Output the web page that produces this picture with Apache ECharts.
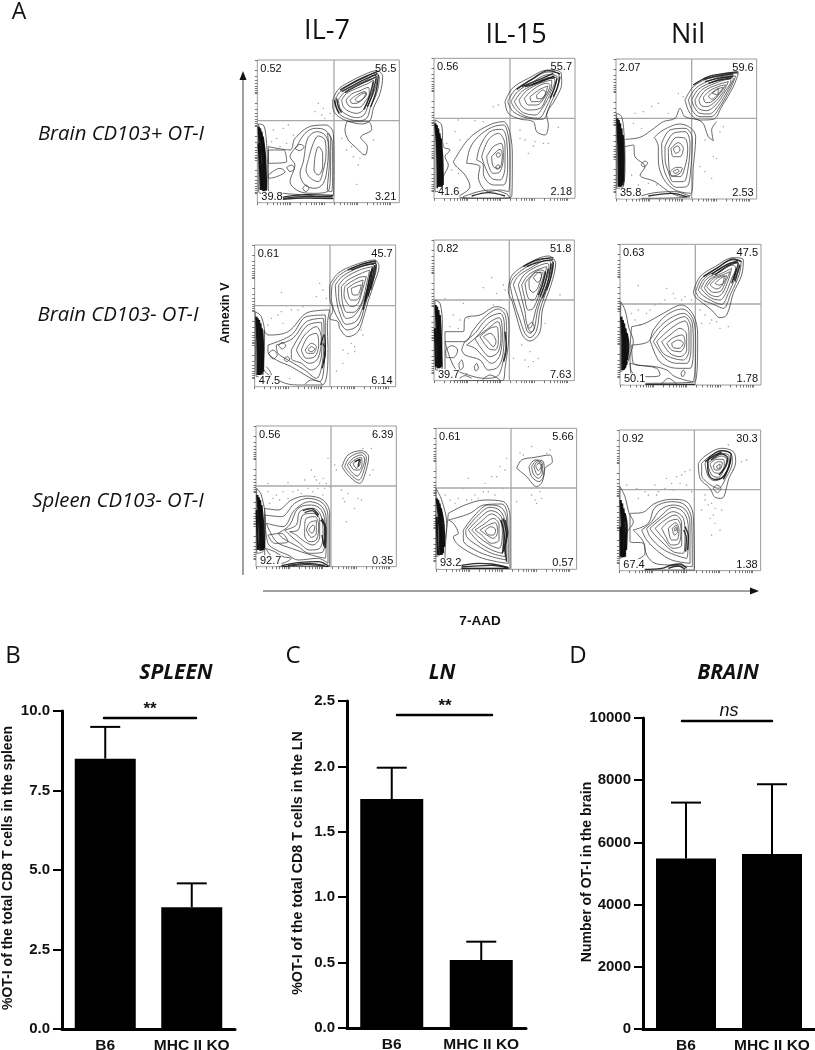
<!DOCTYPE html>
<html>
<head>
<meta charset="utf-8">
<style>html,body{margin:0;background:#fff}#chart{width:815px;height:1050px}</style>
<script src="https://cdn.jsdelivr.net/npm/echarts@6/dist/echarts.min.js"></script>
</head>
<body>
<div id="chart"></div>
<script>
// bar panels
const groups = ["B6", "MHC II KO"];
const spleenMean = [8.5, 3.83];
const spleenUpper = [9.5, 4.58];
const lnMean = [1.75, 0.52];
const lnUpper = [1.99, 0.66];
const brainMean = [5480, 5630];
const brainUpper = [7280, 7870];

// flow plots. units are the plot's own channel scale
const columnNames = ["IL-7", "IL-15", "Nil"];
const rowNames = ["Brain CD103+ OT-I", "Brain CD103- OT-I", "Spleen CD103- OT-I"];
const gatePercents = [
  ["0.52", "56.5", "39.8", "3.21"], ["0.56", "55.7", "41.6", "2.18"], ["2.07", "59.6", "35.8", "2.53"],
  ["0.61", "45.7", "47.5", "6.14"], ["0.82", "51.8", "39.7", "7.63"], ["0.63", "47.5", "50.1", "1.78"],
  ["0.56", "6.39", "92.7", "0.35"], ["0.61", "5.66", "93.2", "0.57"], ["0.92", "30.3", "67.4", "1.38"]
];
const flowTicks = [0, 30, 48, 61, 70, 78, 85, 91, 96, 100, 130, 148, 161, 170, 178, 185, 191, 196, 200, 230, 248, 261, 270, 278, 285, 291, 296, 300, 330, 348, 361, 370, 378, 385, 391, 396, 400];

const a1Rings = [
  [[278,150],[295,118],[330,95],[370,75],[410,62],[428,80],[420,130],[400,175],[390,212],[365,222],[320,212],[290,195],[278,170]],
  [[285,150],[300,125],[335,102],[375,82],[408,68],[418,85],[410,130],[392,170],[380,205],[355,212],[320,205],[295,188]],
  [[295,150],[310,130],[340,110],[380,90],[405,75],[410,95],[400,130],[385,165],[372,195],[350,203],[322,195],[302,178]],
  [[305,150],[320,130],[350,115],[385,100],[400,90],[398,120],[385,150],[370,180],[350,190],[325,183],[310,170]],
  [[318,150],[335,132],[360,122],[385,112],[388,130],[375,155],[358,172],[338,172],[324,165]],
  [[330,150],[350,135],[375,125],[380,132],[365,150],[348,160],[336,160]],
  [[345,148],[365,132],[378,128],[370,145],[352,155]],
  [[320,215],[315,240],[325,270],[345,290],[375,315],[382,290],[362,262],[395,238],[385,215]],
  [[85,290],[150,300],[165,265],[215,228],[258,225],[280,250],[282,330],[280,435],[240,440],[200,435],[130,430],[85,420]],
  [[170,290],[195,250],[225,235],[255,240],[272,265],[272,330],[270,400],[262,425],[220,430],[180,425],[150,395],[165,345],[150,320]],
  [[195,300],[205,262],[230,245],[255,255],[265,285],[262,350],[250,400],[225,415],[195,405],[180,370],[190,335]],
  [[205,330],[218,285],[235,258],[255,270],[258,310],[250,360],[235,395],[212,385],[198,360]],
  [[225,320],[235,290],[248,310],[248,350],[235,375],[222,360]],
  [[262,250],[276,270],[278,340],[275,425],[262,420],[268,340],[266,280]],
  [[165,295],[180,283],[192,290],[178,302]],
  [[140,352],[155,345],[163,355],[150,365]],
  [[85,375],[120,355],[135,365],[110,380],[85,385]],
  [[188,415],[198,405],[207,415],[197,425]],
  [[85,340],[140,335],[130,300],[85,300]],
  [[55,222],[70,225],[78,260],[82,340],[80,420],[60,430],[55,400]]
];
const a1Dark = [
  [[300,120],[340,97],[380,78],[412,65]], [[305,125],[345,103],[385,83],[412,72]], [[315,128],[350,108],[388,90],[410,80]],
  [[415,75],[408,125],[392,170]], [[408,85],[398,130],[382,170]], [[400,95],[388,140],[372,178]],
  [[283,150],[288,170],[298,190]], [[290,145],[295,170],[305,188]],
  [[125,442],[200,434],[280,436]], [[125,448],[200,444],[280,446]], [[130,445],[200,439],[278,441]]
];
const a1Band = [[[56,230],[60,300],[66,420]], [[60,235],[66,300],[70,425]], [[64,245],[71,310],[74,425]], [[68,260],[75,320],[78,420]], [[56,280],[60,350],[62,420]]];
const a1Dots = [[100,240],[130,235],[145,225],[160,255],[110,265],[235,160],[250,175],[225,185],[245,195],[270,190],[255,205],[340,320],[360,325],[355,345],[320,300],[350,403],[400,270],[95,275],[120,290],[140,280],[335,290],[305,265]];

const a2Rings = [
  [[240,155],[262,115],[310,85],[370,60],[408,68],[410,100],[390,150],[365,195],[370,225],[360,255],[335,245],[325,215],[285,207],[250,190]],
  [[248,155],[270,120],[315,92],[370,66],[402,72],[398,110],[375,165],[352,208],[310,205],[265,185]],
  [[258,155],[278,125],[320,98],[370,74],[396,80],[388,115],[365,170],[340,205],[300,198],[272,178]],
  [[268,155],[290,125],[330,102],[375,82],[390,90],[378,125],[355,170],[330,195],[295,188],[278,172]],
  [[282,150],[305,122],[345,100],[380,90],[380,105],[365,140],[345,175],[310,180],[290,168]],
  [[298,145],[325,118],[365,100],[375,105],[360,140],[335,165],[310,165]],
  [[315,140],[345,118],[368,108],[360,135],[340,155],[320,155]],
  [[335,135],[355,120],[362,128],[348,146],[336,146]],
  [[85,335],[120,280],[150,250],[200,222],[235,215],[255,250],[262,320],[260,440],[200,445],[100,440],[135,410],[120,375],[90,345]],
  [[125,340],[135,295],[160,260],[200,232],[235,225],[250,260],[255,330],[250,425],[225,420],[190,425],[160,380],[165,350]],
  [[155,330],[165,290],[195,245],[230,238],[245,270],[248,350],[235,405],[205,405],[175,370],[175,345]],
  [[170,320],[190,270],[220,250],[240,285],[240,350],[225,390],[200,385],[180,350]],
  [[185,320],[205,290],[228,280],[235,320],[225,365],[205,370],[190,345]],
  [[200,320],[225,298],[232,315],[222,355],[205,350]],
  [[213,312],[222,308],[226,316],[218,322]],
  [[212,350],[220,344],[224,352],[216,358]],
  [[115,440],[160,425],[200,420],[245,432],[255,445],[115,445]],
  [[30,210],[50,225],[55,290],[75,300],[60,320],[70,345],[55,380],[50,420],[30,425]]
];
const a2Dark = [
  [[275,118],[320,88],[370,62],[405,72]], [[290,110],[335,92],[385,70]], [[300,110],[340,98],[388,78]], [[320,105],[355,90],[392,82]],
  [[405,80],[398,110],[385,140]], [[396,85],[388,115],[375,145]], [[140,438],[190,428],[240,438]]
];
const a2Band = [[[31,220],[36,290],[38,415]], [[35,225],[40,290],[42,415]], [[39,235],[44,300],[46,415]], [[43,250],[48,310],[50,412]], [[47,265],[52,330],[53,405]]];
const a2Dots = [[100,210],[150,212],[175,215],[205,170],[220,165],[240,205],[285,265],[300,270],[325,288],[330,275],[355,280],[400,232],[90,245],[105,270],[80,360],[100,370],[310,310],[285,240],[370,280],[65,280]];

const a3Rings = [
  [[240,150],[265,110],[310,85],[360,72],[400,70],[385,110],[350,170],[325,208],[285,210],[255,190]],
  [[250,150],[272,115],[318,90],[365,78],[392,78],[378,112],[345,170],[318,200],[285,200],[262,182]],
  [[260,150],[280,118],[325,95],[370,82],[385,85],[370,118],[338,170],[312,192],[285,190],[268,172]],
  [[270,150],[290,120],[330,100],[372,88],[378,92],[362,122],[332,165],[305,182],[285,178],[273,165]],
  [[282,148],[300,122],[335,105],[370,95],[355,125],[325,160],[302,170],[287,165]],
  [[295,142],[315,122],[345,108],[362,105],[345,130],[320,155],[302,158]],
  [[310,138],[335,118],[355,112],[340,132],[320,148]],
  [[322,130],[340,115],[338,135]],
  [[148,262],[175,240],[225,222],[258,235],[272,260],[265,350],[258,430],[210,420],[175,385],[160,330],[160,290]],
  [[170,280],[195,240],[240,235],[262,265],[258,350],[245,410],[215,412],[185,380],[172,330]],
  [[180,290],[205,250],[240,245],[255,280],[250,350],[235,395],[205,395],[190,365],[180,325]],
  [[190,295],[215,262],[240,265],[248,300],[240,350],[225,380],[200,378],[192,350]],
  [[198,295],[220,278],[235,295],[225,320],[205,320]],
  [[205,295],[218,288],[225,300],[212,310]],
  [[195,365],[215,352],[232,355],[222,372],[200,378]],
  [[204,365],[218,358],[222,364],[210,370]],
  [[108,345],[120,333],[128,340],[115,350]],
  [[100,440],[150,428],[210,425],[255,440],[100,445]],
  [[35,190],[50,200],[58,265],[60,330],[55,410],[35,415]]
];
const a3Open = [
  [[60,268],[105,262],[140,240],[175,215],[210,205],[225,175],[240,200],[290,215],[310,260],[325,272],[320,240],[335,215]],
  [[60,290],[85,285],[90,320],[120,350],[105,375],[150,395],[200,430],[240,440],[258,435]]
];
const a3Dark = [
  [[265,105],[310,80],[360,70],[400,66]], [[295,88],[340,78],[385,72]], [[300,95],[340,85],[385,78]], [[310,100],[345,90],[380,84]],
  [[130,438],[200,430],[245,440]]
];
const a3Band = [[[37,205],[40,290],[41,410]], [[41,210],[44,290],[45,410]], [[45,220],[48,300],[49,410]], [[49,235],[52,310],[53,405]], [[53,255],[56,320],[55,395]]];
const a3Dots = [[90,190],[115,185],[140,170],[160,160],[220,130],[235,140],[190,190],[85,220],[110,235],[300,270],[325,320],[335,325],[285,350],[300,365],[320,385],[345,245],[355,230],[100,405],[130,400],[155,405],[80,375]];

const b1Rings = [
  [[245,150],[270,115],[320,90],[380,75],[393,95],[380,140],[360,200],[350,235],[330,290],[300,305],[275,280],[270,260],[245,250],[255,225],[245,190]],
  [[252,150],[275,120],[322,95],[378,80],[385,100],[370,150],[350,215],[330,270],[298,285],[270,250],[258,225],[250,190]],
  [[262,150],[282,125],[328,100],[375,88],[380,105],[362,160],[345,215],[325,258],[295,268],[275,235],[265,190]],
  [[272,150],[292,128],[335,105],[372,95],[372,115],[355,170],[338,215],[315,245],[295,250],[280,220],[272,185]],
  [[280,155],[300,135],[340,115],[365,105],[355,150],[340,205],[315,232],[297,232],[283,200]],
  [[290,155],[310,140],[345,125],[355,125],[342,170],[330,205],[312,215],[298,205],[288,180]],
  [[298,160],[320,145],[345,135],[338,175],[325,195],[308,195]],
  [[310,160],[330,152],[340,150],[328,180],[315,180]],
  [[48,285],[60,300],[120,290],[180,232],[245,225],[238,270],[240,340],[222,450],[150,450],[100,440],[45,395]],
  [[60,330],[130,300],[175,245],[232,240],[232,300],[230,370],[215,440],[180,425],[130,395],[85,375],[60,350]],
  [[85,330],[135,310],[175,260],[225,250],[228,300],[222,390],[205,430],[170,405],[120,375],[90,355]],
  [[130,345],[150,310],[180,270],[220,262],[222,320],[215,385],[190,405],[160,385],[130,370]],
  [[145,345],[170,300],[205,275],[220,310],[210,370],[185,385],[160,370]],
  [[160,345],[180,305],[205,295],[212,330],[200,365],[175,370]],
  [[172,345],[190,325],[205,335],[195,355],[178,355]],
  [[180,345],[190,335],[200,342],[190,350]],
  [[92,332],[102,322],[113,332],[103,342]],
  [[62,355],[75,345],[88,360],[75,372]],
  [[108,372],[118,365],[125,372],[115,380]],
  [[22,230],[40,245],[50,300],[48,370],[45,420],[25,425]]
];
const b1Open = [[[55,395],[70,420],[65,440],[90,440]], [[170,448],[190,435],[215,440],[222,450]]];
const b1Dark = [
  [[300,105],[340,88],[385,78]], [[310,105],[345,92],[385,84]], [[375,95],[365,150],[352,200]], [[368,110],[355,175],[345,225]], [[380,90],[372,135],[360,185]], [[385,88],[378,125],[368,165]], [[372,100],[360,155],[350,205]],
  [[218,330],[228,300],[232,350],[222,400]], [[224,325],[232,340],[226,385]]
];
const b1Band = [[[25,245],[28,320],[29,420]], [[29,250],[32,320],[33,420]], [[33,255],[37,330],[37,420]], [[37,265],[41,340],[41,418]], [[41,280],[45,345],[44,410]]];
const b1Dots = [[100,172],[215,145],[225,165],[205,185],[235,190],[115,212],[150,225],[90,240],[70,250],[105,265],[60,270],[285,345],[310,325],[320,335],[345,300],[330,270],[285,385],[265,408],[125,430],[300,355],[130,225],[165,215],[100,230],[340,285],[320,350]];

const b2Rings = [
  [[250,160],[262,120],[310,85],[370,63],[392,85],[378,150],[352,225],[345,290],[315,318],[295,305],[280,265],[262,200],[250,170]],
  [[255,150],[268,125],[312,92],[370,70],[385,90],[370,150],[345,225],[335,285],[315,308],[300,295],[285,255],[265,195]],
  [[265,150],[278,125],[318,98],[368,75],[380,95],[362,155],[338,225],[328,280],[315,295],[305,285],[295,245],[280,195]],
  [[280,150],[295,122],[325,100],[368,85],[372,100],[355,160],[332,225],[322,268],[315,280],[305,265],[300,230],[290,190]],
  [[290,150],[308,122],[335,105],[365,95],[350,155],[325,220],[310,225],[298,185]],
  [[300,145],[320,120],[345,105],[358,110],[345,155],[325,195],[310,190]],
  [[312,135],[335,112],[352,112],[340,155],[325,172],[313,160]],
  [[325,128],[342,112],[350,122],[338,142]],
  [[307,275],[320,262],[328,278],[318,292]],
  [[60,290],[115,290],[120,250],[165,240],[215,215],[245,230],[252,290],[240,400],[232,437],[100,437],[60,420]],
  [[60,320],[120,320],[145,285],[180,245],[220,222],[242,245],[245,300],[232,390],[215,425],[180,430],[130,420],[90,400]],
  [[110,345],[120,320],[150,295],[185,252],[225,235],[238,270],[235,350],[220,395],[190,405],[165,375],[120,360]],
  [[125,330],[155,305],[190,265],[222,248],[232,290],[225,360],[200,385],[175,365],[150,340]],
  [[150,310],[190,280],[218,260],[228,300],[220,350],[195,365],[165,335]],
  [[165,305],[195,280],[215,275],[220,320],[210,345],[190,340]],
  [[175,305],[195,295],[213,320],[205,335],[190,320]],
  [[62,345],[80,332],[98,345],[85,368],[65,368]],
  [[102,385],[110,375],[115,395],[105,405]],
  [[148,395],[155,385],[160,400],[152,408]],
  [[30,195],[45,205],[52,270],[50,340],[52,400],[32,405]]
];
const b2Open = [[[95,437],[120,422],[140,430]], [[170,437],[195,420],[225,435]]];
const b2Dark = [
  [[295,95],[335,75],[385,68]], [[305,95],[340,82],[385,74]], [[378,85],[368,145],[352,190]], [[370,100],[358,150],[345,185]], [[385,80],[378,125],[365,165]], [[362,110],[352,150],[340,180]],
  [[240,290],[244,340],[236,380]]
];
const b2Band = [[[32,210],[36,300],[38,400]], [[36,215],[40,300],[42,400]], [[40,225],[44,310],[46,398]], [[44,240],[48,320],[49,395]], [[30,280],[33,395]]];
const b2Dots = [[60,190],[200,128],[175,158],[215,175],[225,195],[235,150],[240,165],[115,205],[85,240],[105,255],[75,275],[290,330],[315,350],[325,380],[300,375],[265,370],[405,180],[360,265],[125,415],[205,210],[130,250],[100,280],[340,370],[310,395]];

const b3Rings = [
  [[265,170],[285,125],[330,95],[385,68],[415,75],[410,120],[385,175],[365,240],[345,248],[320,225],[270,185]],
  [[272,170],[290,130],[335,100],[385,75],[408,82],[402,120],[378,175],[355,220],[330,210],[285,190]],
  [[280,165],[298,130],[340,105],[385,82],[402,88],[392,125],[370,175],[350,208],[325,200],[292,180]],
  [[288,160],[305,132],[345,110],[385,90],[392,100],[380,130],[362,175],[345,195],[320,190],[298,172]],
  [[298,158],[315,132],[350,115],[380,100],[372,130],[352,175],[335,185],[310,175]],
  [[305,155],[325,130],[352,120],[375,110],[362,140],[345,170],[325,172]],
  [[315,150],[335,130],[358,122],[352,150],[335,162]],
  [[330,145],[350,128],[365,122],[355,145],[340,150]],
  [[80,275],[120,265],[175,235],[230,210],[265,240],[278,300],[270,440],[90,445],[75,350]],
  [[80,330],[130,320],[145,285],[185,240],[232,222],[265,255],[272,320],[262,440],[210,425],[185,405],[150,395],[85,385]],
  [[135,315],[160,280],[195,250],[235,235],[262,265],[265,330],[255,400],[225,400],[190,395],[160,375]],
  [[145,320],[170,285],[205,258],[238,245],[258,280],[258,340],[245,385],[215,385],[180,370]],
  [[155,320],[180,295],[215,268],[240,258],[252,295],[252,345],[235,375],[205,370],[175,355]],
  [[170,320],[195,300],[225,280],[245,300],[245,345],[225,365],[195,355]],
  [[185,325],[205,308],[232,300],[240,325],[225,350],[200,345]],
  [[200,325],[220,315],[235,325],[222,340],[205,338]],
  [[75,385],[100,390],[155,400],[165,420],[135,425],[100,425],[80,410]],
  [[228,415],[235,405],[240,415],[232,425]],
  [[47,200],[60,225],[72,280],[85,320],[75,360],[60,400],[47,410]]
];
const b3Open = [[[170,447],[190,430],[215,447]]];
const b3Dark = [
  [[295,125],[335,100],[385,72],[410,80]], [[330,120],[370,92],[400,82]], [[320,118],[360,92],[398,78]],
  [[405,90],[390,140]], [[395,100],[380,145]], [[400,85],[386,135]], [[120,448],[270,448]]
];
const b3Band = [[[49,245],[52,320],[52,405]], [[53,255],[56,320],[56,405]], [[57,265],[60,330],[60,400]], [[61,280],[65,335],[63,390]], [[65,295],[70,330],[66,375]]];
const b3Dots = [[100,152],[185,160],[205,175],[240,185],[150,210],[180,195],[100,225],[125,235],[90,255],[105,270],[285,225],[300,240],[290,265],[315,265],[345,280],[370,275],[300,200],[230,195],[260,195],[320,255],[135,225],[165,205],[80,235],[210,190],[335,260]];

const c1Rings = [
  [[282,140],[300,105],[340,92],[362,110],[350,165],[335,190],[300,165]],
  [[290,140],[305,112],[340,98],[355,112],[345,160],[332,180],[305,160]],
  [[298,135],[315,115],[340,105],[350,118],[340,152],[328,168],[310,155]],
  [[305,132],[322,118],[340,112],[342,130],[333,150],[320,150]],
  [[315,130],[328,122],[338,118],[335,135],[325,145]],
  [[50,265],[90,270],[130,240],[175,228],[225,240],[245,280],[245,440],[100,440],[50,405]],
  [[50,285],[100,290],[140,250],[180,235],[225,250],[240,290],[240,430],[210,415],[150,420],[120,405],[85,390],[60,370]],
  [[55,310],[105,320],[140,270],[185,245],[222,260],[235,300],[232,415],[190,405],[130,385],[85,365]],
  [[90,340],[125,315],[150,265],[190,255],[220,270],[232,320],[225,395],[185,400],[150,380],[105,355]],
  [[110,330],[145,315],[155,275],[195,265],[218,285],[225,340],[215,385],[185,390],[155,370],[125,345]],
  [[125,335],[150,330],[165,285],[195,280],[215,300],[215,350],[195,375],[170,365],[145,345]],
  [[170,320],[175,295],[200,290],[212,315],[205,360],[185,365],[170,345]],
  [[175,330],[185,308],[205,302],[205,340],[190,352]],
  [[182,330],[195,315],[200,322],[192,340]],
  [[52,385],[80,395],[105,410],[130,415],[100,430]],
  [[60,345],[100,340],[120,365],[80,370]],
  [[26,205],[40,225],[52,300],[50,380],[45,395],[26,400]]
];
const c1Dark = [
  [[320,125],[335,118],[330,140]],
  [[95,438],[150,428],[210,425],[242,438]], [[120,436],[180,430],[230,436]], [[105,440],[180,434],[240,440]],
  [[218,300],[230,320],[228,380],[222,345]], [[222,295],[234,330],[232,385]], [[165,272],[190,266],[212,285]], [[170,278],[192,272],[210,290]]
];
const c1Band = [[[28,225],[33,300],[37,392]], [[32,232],[37,300],[41,392]], [[36,240],[41,310],[45,390]], [[40,255],[46,320],[48,385]], [[26,270],[30,390]]];
const c1Dots = [[60,190],[120,188],[170,180],[190,150],[205,180],[225,175],[240,115],[235,190],[60,215],[85,225],[105,215],[150,210],[180,205],[225,225],[265,150],[280,210],[295,305],[320,265],[285,235],[340,240],[370,85],[375,150],[245,200],[65,250],[120,235],[135,215],[160,220],[195,215],[210,205],[215,190],[200,170],[230,205],[95,240],[75,235],[300,220],[345,85],[365,165],[260,135],[290,245],[330,235]];

const c2Rings = [
  [[275,145],[290,120],[330,112],[375,105],[382,125],[360,145],[352,185],[335,200],[305,170]],
  [[312,140],[330,120],[355,125],[358,160],[342,185],[320,170]],
  [[320,140],[335,122],[352,130],[352,160],[340,175],[325,162]],
  [[327,140],[338,125],[350,135],[347,158],[338,165]],
  [[332,138],[342,130],[348,140],[340,152]],
  [[70,280],[120,255],[180,240],[235,245],[255,290],[255,445],[105,445],[60,410]],
  [[70,300],[135,280],[175,255],[230,252],[248,290],[250,430],[215,425],[160,410],[100,375],[85,350],[100,340],[85,310]],
  [[115,330],[150,285],[190,255],[228,262],[245,300],[245,420],[200,410],[150,390],[115,360]],
  [[122,330],[155,290],[195,262],[225,272],[240,310],[240,410],[200,400],[155,375],[125,350]],
  [[130,330],[160,298],[198,272],[225,285],[235,320],[232,400],[200,390],[160,365]],
  [[140,330],[168,305],[200,282],[225,300],[232,340],[222,385],[195,375],[160,350]],
  [[150,330],[178,312],[205,295],[222,315],[222,360],[200,370],[170,345]],
  [[165,330],[190,315],[210,308],[218,335],[205,355],[185,345]],
  [[180,332],[198,320],[212,330],[205,345],[192,345]],
  [[33,205],[50,240],[65,310],[60,360],[50,400],[33,410]]
];
const c2Dark = [
  [[240,300],[248,340],[240,380],[245,425]], [[228,300],[238,350],[232,400]], [[234,295],[244,345],[236,395]],
  [[100,438],[160,430],[200,432],[250,442]], [[105,445],[250,445]], [[105,441],[200,436],[250,444]]
];
const c2Band = [[[35,235],[42,300],[46,405]], [[39,240],[46,300],[50,405]], [[43,250],[50,310],[54,400]], [[47,265],[56,320],[57,380]], [[35,290],[39,405]]];
const c2Dots = [[285,98],[320,80],[375,90],[365,100],[245,115],[225,140],[200,170],[180,190],[130,175],[115,205],[190,215],[150,225],[125,240],[75,240],[60,225],[275,245],[320,225],[335,250],[350,235],[320,205],[235,205],[210,225],[175,215],[160,235],[100,235],[90,250],[140,240],[215,170],[240,150],[330,240],[345,215],[295,105]];

const c3Rings = [
  [[280,130],[300,108],[350,85],[385,95],[392,125],[372,175],[350,235],[330,232],[315,205],[285,175]],
  [[290,130],[310,112],[350,92],[378,100],[382,125],[362,175],[340,205],[310,190],[290,165]],
  [[300,130],[318,115],[350,100],[372,108],[372,130],[352,172],[330,182],[310,170]],
  [[308,130],[325,118],[350,108],[365,118],[360,140],[340,172],[320,165]],
  [[315,132],[335,118],[355,118],[358,135],[340,160],[325,155]],
  [[325,135],[340,125],[352,128],[342,150],[330,150]],
  [[335,138],[345,132],[345,145],[337,145]],
  [[325,205],[335,195],[348,205],[337,218]],
  [[75,280],[110,278],[150,250],[200,238],[245,245],[265,290],[268,450],[110,450],[85,430],[120,400],[115,370],[75,365]],
  [[85,330],[130,310],[150,262],[200,245],[240,255],[260,300],[262,440],[190,435],[150,430],[125,405],[115,365]],
  [[110,330],[140,305],[165,270],[205,255],[240,268],[255,310],[255,430],[200,420],[160,395],[125,360]],
  [[125,325],[160,295],[205,262],[238,280],[250,325],[245,415],[210,405],[170,385],[135,350]],
  [[135,325],[170,295],[205,275],[235,295],[240,340],[235,400],[205,395],[170,365],[145,340]],
  [[150,325],[180,300],[210,285],[230,310],[230,375],[205,385],[175,355]],
  [[170,325],[190,305],[215,298],[228,325],[222,370],[200,375],[180,345]],
  [[190,325],[212,308],[222,330],[215,360],[200,360]],
  [[202,325],[213,315],[218,335],[208,345]],
  [[208,325],[213,322],[214,332],[209,332]],
  [[45,200],[60,230],[72,280],[85,305],[65,340],[60,400],[45,415]]
];
const c3Dark = [
  [[310,115],[350,92],[378,103],[375,130],[355,170],[330,178],[312,165],[308,135],[310,115]],
  [[318,120],[350,102],[368,115],[362,140],[342,165]],
  [[300,125],[330,105],[350,96]], [[355,178],[372,140],[376,115]],
  [[110,448],[170,445],[200,435],[225,432],[245,445]], [[190,445],[220,438],[240,448]],
  [[240,320],[250,350],[248,390]], [[236,330],[244,355],[242,395]]
];
const c3Band = [[[47,240],[50,310],[52,412]], [[51,250],[54,310],[56,412]], [[55,265],[59,320],[60,410]], [[59,280],[65,320],[63,390]], [[47,320],[48,410]]];
const c3Dots = [[370,75],[410,125],[425,120],[385,150],[240,155],[215,170],[185,175],[150,195],[65,195],[100,235],[130,225],[155,225],[205,210],[245,195],[260,215],[300,240],[320,250],[315,295],[330,310],[345,330],[320,345],[290,270],[350,270],[225,190],[95,205],[180,205],[120,215],[230,165],[255,150],[300,225],[330,265],[325,285],[310,255],[160,215],[200,190]];

const flowData = [
  { rings: a1Rings, dark: a1Dark, band: a1Band, dots: a1Dots },
  { rings: a2Rings, dark: a2Dark, band: a2Band, dots: a2Dots },
  { rings: a3Rings, open: a3Open, dark: a3Dark, band: a3Band, dots: a3Dots },
  { rings: b1Rings, open: b1Open, dark: b1Dark, band: b1Band, dots: b1Dots },
  { rings: b2Rings, open: b2Open, dark: b2Dark, band: b2Band, dots: b2Dots },
  { rings: b3Rings, open: b3Open, dark: b3Dark, band: b3Band, dots: b3Dots },
  { rings: c1Rings, dark: c1Dark, band: c1Band, dots: c1Dots },
  { rings: c2Rings, dark: c2Dark, band: c2Band, dots: c2Dots },
  { rings: c3Rings, dark: c3Dark, band: c3Band, dots: c3Dots }
];

// where each plot sits: page origin of the channel scale, then axis bounds and gate position
const flowLayout = [
  { origin: [240, 50], x: [52, 478], y: [30, 458], gate: [282, 212] },
  { origin: [425, 50], x: [27, 450], y: [25, 445], gate: [255, 205] },
  { origin: [605, 50], x: [33, 455], y: [27, 447], gate: [260, 205] },
  { origin: [248, 235], x: [20, 443], y: [30, 455], gate: [246, 212] },
  { origin: [425, 235], x: [27, 448], y: [15, 437], gate: [253, 195] },
  { origin: [605, 235], x: [45, 468], y: [28, 450], gate: [271, 207] },
  { origin: [248, 420], x: [24, 445], y: [18, 440], gate: [249, 198] },
  { origin: [425, 420], x: [33, 455], y: [25, 448], gate: [258, 204] },
  { origin: [605, 420], x: [43, 467], y: [30, 452], gate: [268, 209] }
];

const chart = echarts.init(document.getElementById("chart"), null, { renderer: "canvas" });

const grids = [], xAxes = [], yAxes = [], series = [], graphics = [];

const addLine = (gi, data, color, width, opacity) => {
  series.push({
    type: "line", xAxisIndex: gi, yAxisIndex: gi, data, smooth: 0.35, showSymbol: false, silent: true,
    lineStyle: { color, width, opacity }
  });
};

flowLayout.forEach((lay, i) => {
  const left = lay.origin[0] + lay.x[0] / 3;
  const top = lay.origin[1] + lay.y[0] / 3;
  const right = lay.origin[0] + lay.x[1] / 3;
  const bottom = lay.origin[1] + lay.y[1] / 3;
  const gi = grids.length;
  grids.push({ left, top, width: right - left, height: bottom - top, show: true, borderColor: "#9a9a9a", borderWidth: 1, backgroundColor: "#fff", outerBoundsMode: "none" });
  xAxes.push({
    gridIndex: gi, type: "value", min: lay.x[0], max: lay.x[1], splitLine: { show: false }, axisLabel: { show: false }, axisLine: { show: false },
    axisTick: { show: true, length: 2.5, lineStyle: { color: "#555", width: 0.8 }, customValues: flowTicks.map(t => lay.x[0] + t) }
  });
  yAxes.push({
    gridIndex: gi, type: "value", inverse: true, min: lay.y[0], max: lay.y[1], splitLine: { show: false }, axisLabel: { show: false }, axisLine: { show: false },
    axisTick: { show: true, length: 2.5, lineStyle: { color: "#555", width: 0.8 }, customValues: flowTicks.map(t => lay.y[0] + t) }
  });

  const d = flowData[i];
  addLine(gi, [[lay.gate[0], lay.y[0]], [lay.gate[0], lay.y[1]]], "#a8a8a8", 1.3, 1);
  addLine(gi, [[lay.x[0], lay.gate[1]], [lay.x[1], lay.gate[1]]], "#a8a8a8", 1.3, 1);
  series.push({
    type: "scatter", xAxisIndex: gi, yAxisIndex: gi, data: d.dots, symbolSize: 1.4, silent: true,
    itemStyle: { color: "#777" }
  });
  d.rings.forEach(r => addLine(gi, r.concat([r[0]]), "#3a3a3a", 0.85, 0.9));
  (d.open || []).forEach(r => addLine(gi, r, "#3a3a3a", 0.85, 0.9));
  d.dark.forEach(r => addLine(gi, r, "#1a1a1a", 1.4, 0.9));
  d.band.forEach(r => addLine(gi, r, "#0c0c0c", 2.3, 0.95));

  const pct = gatePercents[i];
  const pctStyle = { fontFamily: "Liberation Sans", fontSize: 11, fill: "#111" };
  graphics.push(
    { type: "text", z: 50, x: left + 3, y: top + 9, style: { ...pctStyle, text: pct[0], verticalAlign: "middle" } },
    { type: "text", z: 50, x: right - 3, y: top + 9, style: { ...pctStyle, text: pct[1], align: "right", verticalAlign: "middle" } },
    { type: "text", z: 50, x: left + 4, y: bottom - 6, style: { ...pctStyle, text: pct[2], verticalAlign: "middle", backgroundColor: "#fff" } },
    { type: "text", z: 50, x: right - 3, y: bottom - 6, style: { ...pctStyle, text: pct[3], align: "right", verticalAlign: "middle" } }
  );
});

// bar panels
const barPanels = [
  { mean: spleenMean, upper: spleenUpper, left: 62, top: 711, width: 173, height: 318, max: 10, interval: 2.5, name: "%OT-I of the total CD8 T cells in the spleen", nameX: 8, nameY: 868, nameSize: 14, barW: 61 },
  { mean: lnMean, upper: lnUpper, left: 347, top: 701, width: 179, height: 327, max: 2.5, interval: 0.5, name: "%OT-I of the total CD8 T cells in the LN", nameX: 298, nameY: 863, nameSize: 14.3, barW: 63 },
  { mean: brainMean, upper: brainUpper, left: 643, top: 718, width: 172, height: 311, max: 10000, interval: 2000, name: "Number of OT-I in the brain", nameX: 587, nameY: 872, nameSize: 14, barW: 60 }
];

barPanels.forEach(p => {
  const gi = grids.length;
  grids.push({ left: p.left, top: p.top, width: p.width, height: p.height, outerBoundsMode: "none" });
  xAxes.push({
    gridIndex: gi, type: "category", data: groups,
    axisLine: { lineStyle: { color: "#000", width: 3 } },
    axisTick: { alignWithLabel: true, length: 7, lineStyle: { color: "#000", width: 2 } },
    axisLabel: { color: "#111", fontFamily: "Liberation Sans", fontWeight: "bold", fontSize: 15.5, margin: 9, interval: 0, hideOverlap: false }
  });
  yAxes.push({
    gridIndex: gi, type: "value", min: 0, max: p.max, interval: p.interval, splitLine: { show: false },
    axisLine: { show: true, lineStyle: { color: "#000", width: 3 } },
    axisTick: { show: true, length: 9, lineStyle: { color: "#000", width: 2 } },
    axisLabel: {
      color: "#111", fontFamily: "Liberation Sans", fontWeight: "bold", fontSize: 15, margin: 12,
      formatter: v => (p.interval < 100 ? v.toFixed(1) : String(v))
    }
  });
  series.push({
    type: "bar", xAxisIndex: gi, yAxisIndex: gi, data: p.mean, barWidth: p.barW, silent: true,
    itemStyle: { color: "#000" }
  });
  series.push({
    type: "custom", xAxisIndex: gi, yAxisIndex: gi, silent: true, z: 5,
    data: p.mean.map((m, i) => [i, m, p.upper[i]]),
    renderItem: (params, api) => {
      const top = api.coord([api.value(0), api.value(2)]);
      const base = api.coord([api.value(0), api.value(1)]);
      const style = { stroke: "#000", lineWidth: 2 };
      return {
        type: "group",
        children: [
          { type: "line", shape: { x1: top[0], y1: top[1], x2: base[0], y2: base[1] }, style },
          { type: "line", shape: { x1: top[0] - 15, y1: top[1], x2: top[0] + 15, y2: top[1] }, style }
        ]
      };
    }
  });
  graphics.push({
    type: "text", x: p.nameX, y: p.nameY, rotation: Math.PI / 2,
    style: { text: p.name, fontFamily: "Liberation Sans", fontWeight: "bold", fontSize: p.nameSize, fill: "#111", align: "center", verticalAlign: "middle" }
  });
});

const headFont = "Open Sans";
const addText = (text, x, y, fontSize, extra) => graphics.push({
  type: "text", x, y,
  style: { text, fontFamily: headFont, fontSize, fill: "#111", align: "center", verticalAlign: "middle", ...extra }
});

addText("A", 19, 12, 23);
addText("B", 13, 656, 24);
addText("C", 293, 656, 24);
addText("D", 578, 656, 24);

addText(columnNames[0], 327, 31, 27);
addText(columnNames[1], 516, 35, 27);
addText(columnNames[2], 688, 35, 27);

addText(rowNames[0], 121, 134, 20.3, { fontStyle: "italic" });
addText(rowNames[1], 118, 315, 20.3, { fontStyle: "italic" });
addText(rowNames[2], 118, 501, 20.3, { fontStyle: "italic" });

addText("SPLEEN", 176, 673, 21, { fontStyle: "italic", fontWeight: "bold" });
addText("LN", 442, 673, 21, { fontStyle: "italic", fontWeight: "bold" });
addText("BRAIN", 728, 673, 21, { fontStyle: "italic", fontWeight: "bold" });

addText("Annexin V", 226, 313, 12.5, { fontFamily: "Liberation Sans", fontWeight: "bold" });
graphics[graphics.length - 1].rotation = Math.PI / 2;
addText("7-AAD", 480, 621, 13.5, { fontFamily: "Liberation Sans", fontWeight: "bold" });

addText("**", 150, 709, 17, { fontFamily: "Liberation Sans", fontWeight: "bold" });
addText("**", 445, 706, 17, { fontFamily: "Liberation Sans", fontWeight: "bold" });
addText("ns", 729, 711, 18, { fontFamily: "Liberation Sans", fontStyle: "italic" });

const sigLine = (x1, x2, y) => graphics.push({
  type: "line", shape: { x1, y1: y, x2, y2: y }, style: { stroke: "#000", lineWidth: 2.5, lineCap: "round" }
});
sigLine(104, 196, 718);
sigLine(397, 492, 715);
sigLine(682, 772, 721);

// the Annexin V and 7-AAD arrows
graphics.push(
  { type: "line", shape: { x1: 243, y1: 575, x2: 243, y2: 78 }, style: { stroke: "#444", lineWidth: 1 } },
  { type: "polygon", shape: { points: [[243, 71], [239.5, 80], [246.5, 80]] }, style: { fill: "#111" } },
  { type: "line", shape: { x1: 263, y1: 591, x2: 752, y2: 591 }, style: { stroke: "#444", lineWidth: 1 } },
  { type: "polygon", shape: { points: [[759, 591], [750, 587.5], [750, 594.5]] }, style: { fill: "#111" } }
);

chart.setOption({
  animation: false,
  backgroundColor: "#fff",
  grid: grids,
  xAxis: xAxes,
  yAxis: yAxes,
  series,
  graphic: graphics
});
</script>
</body>
</html>
